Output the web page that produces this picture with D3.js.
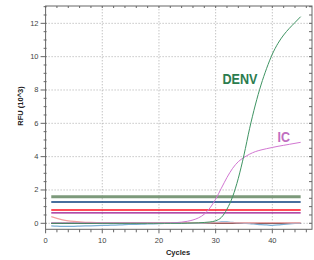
<!DOCTYPE html>
<html>
<head>
<meta charset="utf-8">
<script src="https://cdn.jsdelivr.net/npm/d3@7"></script>
<style>
  body { margin: 0; background: #fff; }
  text { font-family: "Liberation Sans", Arial, sans-serif; }
</style>
</head>
<body>
<script>
// cycles 1..45
var cycles = d3.range(1, 46);

var denv = [0,0,0,0,0,0,0,0,0,0, 0,0,0,0,0,0,0,0,0,0, 0,0,0,0,0.01,0.02,0.03,0.05,0.08,0.15,
            0.35,0.85,1.6,2.7,4.1,5.7,7.1,8.3,9.3,10.15, 10.8,11.3,11.7,12.05,12.4];

var ic = [0.02,0.02,0.02,0.02,0.02,0.02,0.02,0.02,0.02,0.02, 0.02,0.02,0.02,0.02,0.02,0.02,0.02,0.02,0.02,0.02,
          0.02,0.03,0.04,0.07,0.12,0.2,0.33,0.55,0.92,1.45, 2.1,2.75,3.3,3.7,3.95,4.15,4.3,4.4,4.48,4.55,
          4.62,4.68,4.74,4.8,4.86];

var bgRed = [0.4,0.3,0.21,0.15,0.11,0.08,0.06,0.05,0.04,0.03, 0.03,0.02,0.02,0.02,0.02,0.02,0.02,0.02,0.02,0.02,
             0.02,0.02,0.02,0.02,0.02,0.02,0.02,0.02,0.02,0.02, 0.02,0.02,0.02,0.02,0.02,0.02,0.02,0.02,0.02,0.02,
             0.02,0.02,0.02,0.02,0.02];

var bgBlue = [-0.15,-0.17,-0.18,-0.18,-0.18,-0.17,-0.16,-0.15,-0.14,-0.13, -0.12,-0.11,-0.1,-0.08,-0.07,-0.06,-0.05,-0.04,-0.03,-0.02,
              -0.01,0,0,0,0,0,0,0.01,0.03,0.05, 0.08,0.08,0.05,0.02,0,-0.02,-0.05,-0.08,-0.1,-0.12,
              -0.1,-0.06,-0.03,-0.01,0];

// thresholds: value, colour, width
var thresholdValues = [1.6, 1.28, 0.8, 0.62, 0.0];
var thresholdColors = ["#7d9a7b", "#0b3f7c", "#ff1020", "#98108a", "#3a2020"];
var thresholdWidths = [3, 1.6, 1.6, 1.2, 1.3];

var xTicks = [0, 10, 20, 30, 40];
var yTicks = [0, 2, 4, 6, 8, 10, 12];

var width = 314, height = 260;
var x = d3.scaleLinear().domain([0, 47]).range([45.6, 312]);
var y = d3.scaleLinear().domain([-0.36, 13.04]).range([229.3, 6]);

var svg = d3.select("body").append("svg")
    .attr("width", width)
    .attr("height", height);

// grid
svg.append("g").selectAll("line").data(xTicks.slice(1)).enter().append("line")
    .attr("x1", d => x(d)).attr("x2", d => x(d))
    .attr("y1", y(-0.36)).attr("y2", y(13.04))
    .attr("stroke", "#aaa").attr("stroke-dasharray", "1,2");
svg.append("g").selectAll("line").data(yTicks).enter().append("line")
    .attr("x1", x(0)).attr("x2", x(47))
    .attr("y1", d => y(d)).attr("y2", d => y(d))
    .attr("stroke", "#aaa").attr("stroke-dasharray", "1,2");

// frame
svg.append("rect")
    .attr("x", x(0)).attr("y", y(13.04))
    .attr("width", x(47) - x(0)).attr("height", y(-0.36) - y(13.04))
    .attr("fill", "none").attr("stroke", "#666").attr("stroke-width", 1);

// ticks
var xMinor = d3.range(0, 47, 2);
var yMinor = d3.range(-0, 13.01, 0.5);
var tk = svg.append("g").attr("stroke", "#666");
xMinor.forEach(function (d) {
  var major = d % 10 === 0;
  tk.append("line").attr("x1", x(d)).attr("x2", x(d))
    .attr("y1", y(-0.36)).attr("y2", y(-0.36) + (major ? 4 : 3));
  tk.append("line").attr("x1", x(d)).attr("x2", x(d))
    .attr("y1", y(13.04)).attr("y2", y(13.04) + 2);
});
yMinor.forEach(function (d) {
  var major = d % 2 === 0;
  tk.append("line").attr("x1", x(0) - (major ? 5 : 2)).attr("x2", x(0) + 1)
    .attr("y1", y(d)).attr("y2", y(d));
  tk.append("line").attr("x1", x(47) - 3).attr("x2", x(47))
    .attr("y1", y(d)).attr("y2", y(d));
});

// tick labels
svg.append("g").selectAll("text").data(yTicks).enter().append("text")
    .attr("x", 38.5).attr("y", d => y(d) + 2.5)
    .attr("text-anchor", "end").attr("font-size", 7.5).attr("fill", "#444")
    .text(d => d);
svg.append("g").selectAll("text").data(xTicks).enter().append("text")
    .attr("x", d => x(d)).attr("y", 243)
    .attr("text-anchor", "middle").attr("font-size", 7.5).attr("fill", "#444")
    .text(d => d);

// axis titles
svg.append("text").attr("x", 178).attr("y", 255)
    .attr("text-anchor", "middle").attr("font-size", 7.5).attr("font-weight", "bold")
    .attr("fill", "#222").text("Cycles");
svg.append("text")
    .attr("transform", "translate(23,106) rotate(-90)")
    .attr("text-anchor", "middle").attr("font-size", 7.5).attr("font-weight", "bold")
    .attr("fill", "#222").text("RFU (10^3)");

// thresholds
svg.append("g").selectAll("line").data(thresholdValues).enter().append("line")
    .attr("x1", x(1)).attr("x2", x(45))
    .attr("y1", d => y(d)).attr("y2", d => y(d))
    .attr("stroke", (d, i) => thresholdColors[i])
    .attr("stroke-width", (d, i) => thresholdWidths[i]);

// curves
var line = d3.line().x((d, i) => x(cycles[i])).y(d => y(d)).curve(d3.curveMonotoneX);
function drawCurve(vals, color, w) {
  svg.append("path").datum(vals)
    .attr("d", line).attr("fill", "none")
    .attr("stroke", color).attr("stroke-width", w);
}
drawCurve(bgBlue, "#7aaed4", 1.2);
drawCurve(bgRed, "#f3a0a0", 1.2);
drawCurve(ic, "#d277d2", 1);
drawCurve(denv, "#3f9463", 1);

// labels
svg.append("text").attr("x", 222.5).attr("y", 84)
    .attr("font-size", 15.5).attr("font-weight", "bold").attr("fill", "#2b7c4e")
    .attr("textLength", 35).attr("lengthAdjust", "spacingAndGlyphs")
    .text("DENV");
svg.append("text").attr("x", 277.5).attr("y", 141.7)
    .attr("font-size", 15).attr("font-weight", "bold").attr("fill", "#c06ec0")
    .attr("textLength", 12.5).attr("lengthAdjust", "spacingAndGlyphs")
    .text("IC");
</script>
</body>
</html>
